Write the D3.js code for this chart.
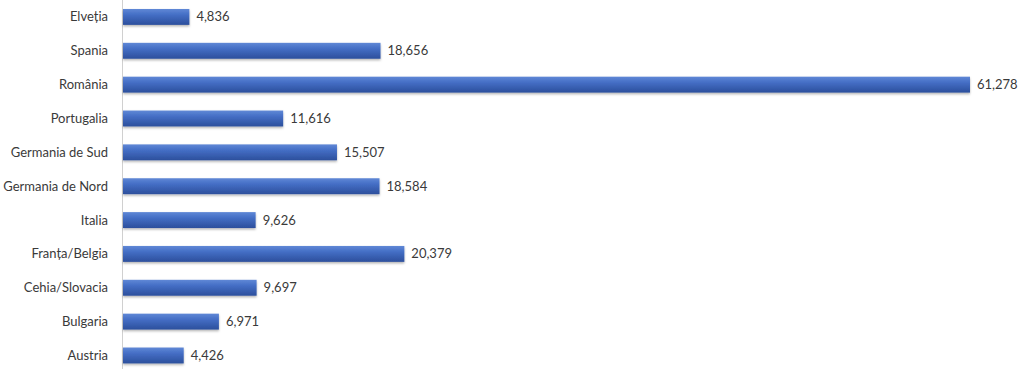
<!DOCTYPE html>
<html><head><meta charset="utf-8">
<script src="https://cdn.jsdelivr.net/npm/d3@7"></script>
<style>body{margin:0;background:#fff;}svg{display:block;}</style>
</head><body>
<svg id="c" width="1023" height="369"></svg>
<script>
const categories = ["Elveția","Spania","România","Portugalia","Germania de Sud","Germania de Nord","Italia","Franța/Belgia","Cehia/Slovacia","Bulgaria","Austria"];
const values = [4836,18656,61278,11616,15507,18584,9626,20379,9697,6971,4426];
const valueLabels = ["4,836","18,656","61,278","11,616","15,507","18,584","9,626","20,379","9,697","6,971","4,426"];

const svg = d3.select("#c");
const x0 = 122.5;
const x = d3.scaleLinear().domain([0, 61278]).range([x0, 970]);
const y = d3.scaleBand().domain(categories).range([0, 372.4]).paddingInner(0.53).paddingOuter(0.265);

const defs = svg.append("defs");
const g = defs.append("linearGradient").attr("id","bg").attr("x1",0).attr("y1",0).attr("x2",0).attr("y2",1);
g.append("stop").attr("offset","0%").attr("stop-color","#6088d6");
g.append("stop").attr("offset","35%").attr("stop-color","#456fc6");
g.append("stop").attr("offset","100%").attr("stop-color","#2c4f9c");
const f = defs.append("filter").attr("id","sh").attr("x","-5%").attr("y","-30%").attr("width","110%").attr("height","180%");
f.append("feDropShadow").attr("dx",0).attr("dy",1.5).attr("stdDeviation",1.2).attr("flood-color","#000").attr("flood-opacity",0.3);

svg.append("line").attr("x1",x0).attr("x2",x0).attr("y1",0).attr("y2",369)
  .attr("stroke","#d0d0d0").attr("stroke-width",1);

svg.selectAll("rect.bar").data(values).join("rect").attr("class","bar")
  .attr("x", x(0)+0.5).attr("y",(d,i)=>y(categories[i]))
  .attr("width",d=>x(d)-x(0)-0.5).attr("height",y.bandwidth())
  .attr("fill","url(#bg)").attr("filter","url(#sh)");

svg.selectAll("text.cat").data(categories).join("text").attr("class","cat")
  .attr("x",108).attr("y",d=>y(d)+y.bandwidth()/2).attr("dy","0.35em")
  .attr("text-anchor","end").attr("font-family","Lato, sans-serif").attr("font-size",13)
  .attr("fill","#3a3a3a").text(d=>d);

svg.selectAll("text.val").data(values).join("text").attr("class","val")
  .attr("x",d=>x(d)+7).attr("y",(d,i)=>y(categories[i])+y.bandwidth()/2).attr("dy","0.35em")
  .attr("font-family","Lato, sans-serif").attr("font-size",13)
  .attr("fill","#3a3a3a").text((d,i)=>valueLabels[i]);
</script>
</body></html>
